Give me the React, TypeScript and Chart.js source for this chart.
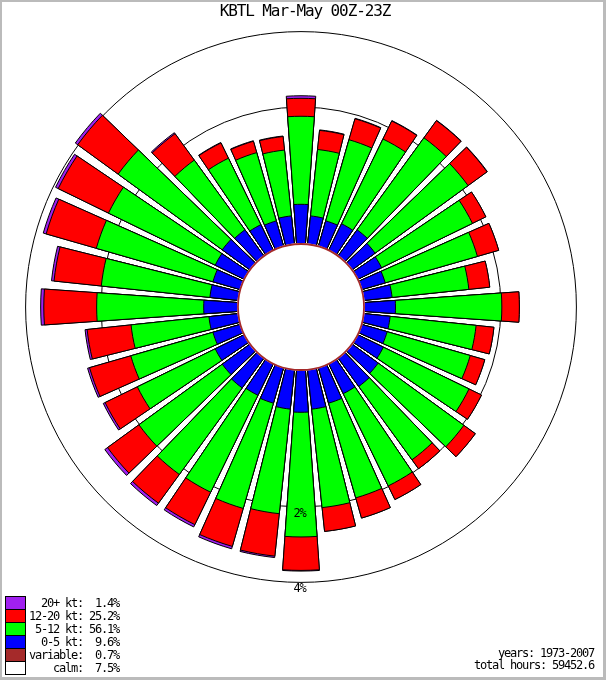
import React, { useEffect, useRef } from "react";
import { Chart, registerables } from "chart.js";

Chart.register(...registerables);

// ---------------- data ----------------
const TITLE = "KBTL Mar-May 00Z-23Z";
const DIRECTIONS = [0, 10, 20, 30, 40, 50, 60, 70, 80, 90, 100, 110, 120, 130, 140, 150, 160, 170,
  180, 190, 200, 210, 220, 230, 240, 250, 260, 270, 280, 290, 300, 310, 320, 330, 340, 350];
// percent of all hours, per direction
const SPEED_0_5 = [0.36, 0.24, 0.22, 0.25, 0.28, 0.24, 0.22, 0.20, 0.24, 0.27, 0.22, 0.22, 0.24, 0.28, 0.31, 0.29, 0.33, 0.36,
  0.39, 0.36, 0.33, 0.31, 0.33, 0.30, 0.28, 0.24, 0.25, 0.30, 0.24, 0.24, 0.28, 0.30, 0.28, 0.24, 0.22, 0.24];
const SPEED_5_12 = [1.44, 0.93, 1.24, 1.47, 1.93, 1.91, 1.58, 1.45, 1.12, 1.75, 1.28, 1.28, 1.48, 1.75, 1.45, 1.69, 1.64, 1.68,
  2.33, 1.82, 1.89, 1.83, 1.83, 1.71, 1.34, 1.28, 1.15, 1.80, 1.78, 2.06, 2.05, 2.32, 1.33, 1.06, 0.99, 0.92];
const SPEED_12_20 = [0.40, 0.36, 0.45, 0.44, 0.52, 0.57, 0.33, 0.48, 0.42, 0.41, 0.37, 0.31, 0.30, 0.33, 0.24, 0.35, 0.49, 0.57,
  0.92, 1.09, 1.01, 0.90, 0.89, 0.95, 0.80, 0.95, 0.95, 1.36, 1.19, 1.39, 1.51, 1.40, 0.72, 0.33, 0.22, 0.25];
const SPEED_20_PLUS = [0.06, 0.01, 0.01, 0.01, 0.01, 0.01, 0.00, 0.00, 0.00, 0.00, 0.00, 0.00, 0.00, 0.00, 0.00, 0.00, 0.00, 0.00,
  0.02, 0.04, 0.07, 0.07, 0.08, 0.09, 0.05, 0.05, 0.05, 0.09, 0.07, 0.09, 0.09, 0.09, 0.03, 0.01, 0.01, 0.01];
const CALM_PCT = 7.5;
const VARIABLE_PCT = 0.7;
const RING_PCTS = [2, 4];

const LEGEND_LABELS = ["20+ kt", "12-20 kt", "5-12 kt", "0-5 kt", "variable", "calm"];
const LEGEND_PCTS = [1.4, 25.2, 56.1, 9.6, 0.7, 7.5];
const YEARS = "1973-2007";
const TOTAL_HOURS = "59452.6";

// ---------------- style ----------------
const PURPLE = "#a020f0";
const RED = "#ff0000";
const GREEN = "#00ff00";
const BLUE = "#0000ff";
const BROWN = "#a52a2a";
const LEGEND_COLORS = [PURPLE, RED, GREEN, BLUE, BROWN, "#ffffff"];
const STACK_COLORS = [BLUE, GREEN, RED, PURPLE];
const BAR_DEG = 8;
const GAP_DEG = 2;
const EDGE_PCT = 4.46; // percentage reaching the edge of the radial drawing area
const MONO = '"DejaVu Sans Mono", monospace';

// area-proportional radius: calm (+variable) spread over all directions forms the centre disc
const CALM_BASE = (CALM_PCT + VARIABLE_PCT) / DIRECTIONS.length;
const toR = (pct: number) => Math.sqrt(pct + CALM_BASE);

const STACKS = [SPEED_0_5, SPEED_5_12, SPEED_12_20, SPEED_20_PLUS];
const CUMULATIVE = STACKS.map((_, k) =>
  DIRECTIONS.map((__, i) => STACKS.slice(0, k + 1).reduce((s, arr) => s + arr[i], 0))
);
const LABELS = DIRECTIONS.flatMap((d) => [`${d}°`, ""]);

const calmPlugin = {
  id: "calmCircle",
  afterDatasetsDraw(chart: any) {
    const s = chart.scales.r;
    const ctx = chart.ctx;
    const rOuter = s.getDistanceFromCenterForValue(toR(0));
    ctx.save();
    ctx.beginPath();
    ctx.arc(s.xCenter, s.yCenter, rOuter, 0, Math.PI * 2);
    ctx.fillStyle = "#ffffff";
    ctx.fill();
    ctx.beginPath();
    ctx.arc(s.xCenter, s.yCenter, rOuter - 0.9, 0, Math.PI * 2);
    ctx.strokeStyle = BROWN;
    ctx.lineWidth = 1.8;
    ctx.stroke();
    ctx.restore();
  },
};

const ringLabelPlugin = {
  id: "ringLabels",
  afterDraw(chart: any) {
    const s = chart.scales.r;
    const ctx = chart.ctx;
    ctx.save();
    ctx.font = `12px ${MONO}`;
    try { (ctx as any).letterSpacing = "-1.2px"; } catch (e) {}
    ctx.fillStyle = "#000";
    ctx.textAlign = "center";
    ctx.textBaseline = "alphabetic";
    RING_PCTS.forEach((p) => {
      const r = s.getDistanceFromCenterForValue(toR(p));
      ctx.fillText(`${p}%`, s.xCenter - 1.5, s.yCenter + r + 10);
    });
    ctx.restore();
  },
};

export default function App() {
  const ref = useRef<HTMLCanvasElement>(null);

  useEffect(() => {
    const canvas = ref.current;
    if (!canvas) return;
    const chart = new Chart(canvas, {
      type: "polarArea",
      data: {
        labels: LABELS,
        datasets: CUMULATIVE.map((vals, k) => ({
          label: ["0-5 kt", "5-12 kt", "12-20 kt", "20+ kt"][k],
          data: vals.flatMap((v) => [toR(v), 0]),
          backgroundColor: (c: any) => (c.dataIndex % 2 ? "rgba(0,0,0,0)" : STACK_COLORS[k]),
          borderColor: "#000000",
          borderWidth: (c: any) => (c.dataIndex % 2 ? 0 : 1),
          angle: (c: any) => (c.dataIndex % 2 ? GAP_DEG : BAR_DEG),
        })) as any,
      },
      options: {
        responsive: false,
        animation: false,
        events: [],
        layout: { padding: { left: 11, top: 17, right: 15, bottom: 83 } },
        plugins: {
          legend: { display: false },
          tooltip: { enabled: false },
          title: { display: false },
        },
        scales: {
          r: {
            min: 0,
            max: toR(EDGE_PCT),
            startAngle: -BAR_DEG / 2,
            z: 1,
            ticks: { display: false },
            grid: { display: true, circular: true, color: "#000000", lineWidth: 1 },
            angleLines: { display: false },
            pointLabels: { display: false },
            afterBuildTicks: (scale: any) => {
              scale.ticks = [{ value: 0 }, ...RING_PCTS.map((p) => ({ value: toR(p) }))];
            },
          } as any,
        },
      } as any,
      plugins: [calmPlugin, ringLabelPlugin],
    });
    return () => chart.destroy();
  }, []);

  const legendLines = LEGEND_LABELS.map(
    (l, i) => `${(l + ":").padStart(9)} ${LEGEND_PCTS[i].toFixed(1).padStart(4)}%`
  );

  const smallText: React.CSSProperties = {
    fontFamily: MONO,
    fontSize: 12,
    letterSpacing: "-1.22px",
    color: "#000",
    whiteSpace: "pre",
  };

  return (
    <div
      style={{
        position: "absolute",
        left: 0,
        top: 0,
        width: 606,
        height: 680,
        background: "#ffffff",
        overflow: "hidden",
      }}
    >
      <canvas
        ref={ref}
        width={606}
        height={680}
        style={{ position: "absolute", left: 0, top: 0, width: 606, height: 680 }}
      />
      <div
        style={{
          position: "absolute",
          left: 2,
          top: 2.5,
          width: 606,
          textAlign: "center",
          fontFamily: MONO,
          fontSize: 16,
          lineHeight: "16px",
          letterSpacing: "-1.1px",
          color: "#000",
          whiteSpace: "pre",
        }}
      >
        {TITLE}
      </div>

      {LEGEND_COLORS.map((c, i) => (
        <div
          key={"box" + i}
          style={{
            position: "absolute",
            left: 5,
            top: 596 + 13 * i,
            width: 21,
            height: 14,
            boxSizing: "border-box",
            border: "1px solid #000",
            background: c,
          }}
        />
      ))}
      <div style={{ position: "absolute", left: 29, top: 597, lineHeight: "13px", ...smallText }}>
        {legendLines.map((t, i) => (
          <div key={"lg" + i}>{t}</div>
        ))}
      </div>

      <div
        style={{
          position: "absolute",
          right: 12,
          top: 648,
          textAlign: "right",
          lineHeight: "11.5px",
          ...smallText,
        }}
      >
        <div>{`years: ${YEARS}`}</div>
        <div>{`total hours: ${TOTAL_HOURS}`}</div>
      </div>

      <div
        style={{
          position: "absolute",
          left: 0,
          top: 0,
          width: 606,
          height: 680,
          boxSizing: "border-box",
          borderStyle: "solid",
          borderColor: "#bbbbbb",
          borderWidth: "2px 3px 3px 2px",
          pointerEvents: "none",
        }}
      />
    </div>
  );
}
